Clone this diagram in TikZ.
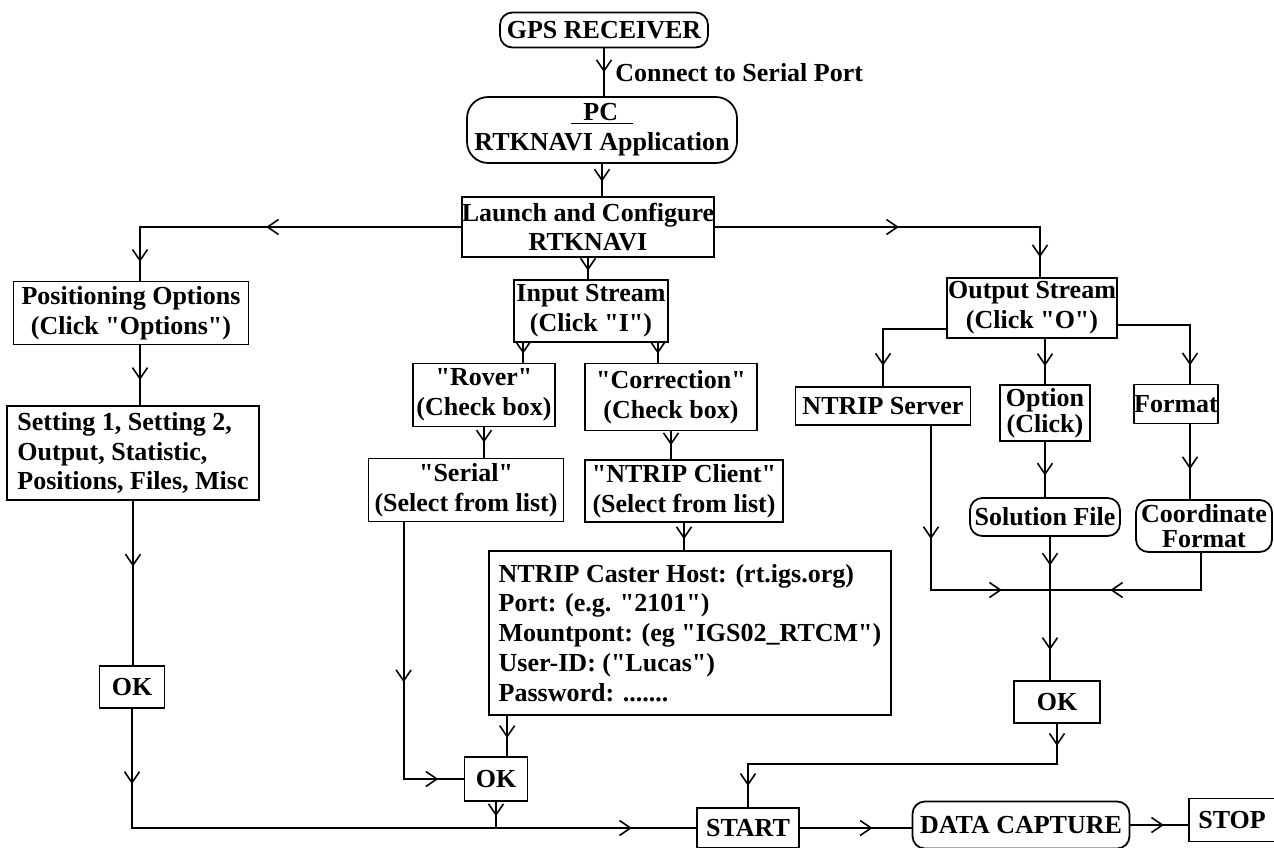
\documentclass[tikz,border=0pt]{standalone}
\usepackage{fontspec}
\setmainfont{Liberation Serif}[Ligatures=TeXOff]
\usetikzlibrary{arrows.meta,decorations.markings}

\tikzset{
  box/.style={draw, line width=1pt, align=center, inner sep=0pt,
    font=\fontsize{14.8}{17}\selectfont\bfseries},
  rbox/.style={box, rounded corners=7pt},
  flow/.style={line width=1pt},
  vmark/.style={postaction={decorate, decoration={markings,
    mark=at position #1 with {\arrow{>}}}}},
  >={Straight Barb[length=2.2mm,width=3mm,line width=0.9pt]}
}

\begin{document}
\begin{tikzpicture}[x=0.02cm, y=-0.02cm]
\useasboundingbox (0,0) rectangle (1274,848);

% top of the chart
\node[rbox, minimum width=4.16cm, minimum height=0.70cm] (gps) at (604,30) {GPS RECEIVER};
\node[rbox, rounded corners=12pt, minimum width=5.40cm, minimum height=1.32cm] (pc) at (602,130)
  {\underline{\hspace{0.25cm}PC\hspace{0.3cm}}\\RTKNAVI Application};
\node[box, minimum width=4.98cm, minimum height=1.20cm] (launch) at (588,227) {Launch and Configure\\RTKNAVI};
\node[anchor=west, font=\fontsize{14.8}{17}\selectfont\bfseries, inner sep=0pt] (conn) at (615,73) {Connect to Serial Port};

% left branch
\node[box, minimum width=4.70cm, minimum height=1.26cm] (pos) at (131,313) {Positioning Options\\ (Click "Options")};
\node[box, align=left, minimum width=5.04cm, minimum height=1.88cm] (set) at (133,453)
  {Setting 1, Setting 2,\\Output, Statistic,\\Positions, Files, Misc};
\node[box, minimum width=1.30cm, minimum height=0.84cm] (okL) at (132,687) {OK};

% input stream
\node[box, minimum width=3.08cm, minimum height=1.24cm] (inp) at (591,311) {Input Stream\\(Click "I")};
\node[box, minimum width=2.84cm, minimum height=1.26cm] (rover) at (484,395) {"Rover"\\(Check box)};
\node[box, minimum width=3.44cm, minimum height=1.34cm] (corr) at (671,397) {"Correction"\\ (Check box)};
\node[box, minimum width=3.90cm, minimum height=1.26cm] (serial) at (466,490) {"Serial"\\(Select from list)};
\node[box, minimum width=3.96cm, minimum height=1.24cm] (client) at (684,491) {"NTRIP Client"\\(Select from list)};
\node[box, align=left, minimum width=8.04cm, minimum height=3.28cm] (caster) at (690,633)
  {NTRIP Caster Host: (rt.igs.org)\\Port: (e.g. "2101")\\Mountpont: (eg "IGS02\_RTCM")\\User-ID: ("Lucas")\\Password: .......};
\node[box, minimum width=1.26cm, minimum height=0.88cm] (okM) at (496,779) {OK};

% output stream
\node[box, minimum width=3.40cm, minimum height=1.20cm] (out) at (1032,308) {Output Stream\\(Click "O")};
\node[box, minimum width=3.50cm, minimum height=0.76cm] (srv) at (883,406) {NTRIP Server};
\node[box, minimum width=1.80cm, minimum height=1.12cm] (opt) at (1045,413) {Option\\[-2pt](Click)};
\node[box, minimum width=1.44cm, minimum height=0.78cm] (fmt) at (1176,404) {Format};
\node[rbox, minimum width=3.00cm, minimum height=0.76cm] (sol) at (1045,517) {Solution File};
\node[rbox, minimum width=2.72cm, minimum height=1.04cm] (coord) at (1204,526) {Coordinate\\[-2.5pt]Format};
\node[box, minimum width=1.72cm, minimum height=0.84cm] (okR) at (1057,702) {OK};
\coordinate (join) at (1050,590);

% bottom row
\node[box, minimum width=2.04cm, minimum height=0.80cm] (start) at (748,828) {START};
\node[rbox, minimum width=4.34cm, minimum height=0.94cm] (data) at (1021,825) {DATA CAPTURE};
\node[box, minimum width=1.72cm, minimum height=0.86cm] (stop) at (1232,820) {STOP};

% connectors
\draw[flow, vmark=0.5] (gps.south) -- (gps.south |- pc.north);
\draw[flow, vmark=0.55] (pc.south) -- (pc.south |- launch.north);
\draw[flow, vmark=0.52, vmark=0.95] (launch.west) -| ([xshift=0.18cm]pos.north);
\draw[flow, vmark=0.58] ([xshift=0.18cm]pos.south) coordinate (ps) -- (ps |- set.north);
\draw[flow, vmark=0.4] (set.south) -- (set.south |- okL.north);
\draw[flow, vmark=0.11, vmark=0.906] (okL.south) |- (start.west);

\draw[flow, vmark=0.6] (launch.south) -- (launch.south |- inp.north);
\draw[flow, vmark=0.55] ([xshift=0.2cm]inp.south west) coordinate (i1) -- (i1 |- rover.north);
\draw[flow, vmark=0.55] ([xshift=-0.22cm]inp.south east) coordinate (i2) -- (i2 |- corr.north);
\draw[flow, vmark=0.5] (rover.south) -- (rover.south |- serial.north);
\draw[flow, vmark=0.5] (corr.south) -- (corr.south |- client.north);
\draw[flow, vmark=0.6] (client.south) -- (client.south |- caster.north);
\draw[flow, vmark=0.505, vmark=0.92] ([xshift=0.72cm]serial.south west) |- (okM.west);
\draw[flow, vmark=0.55] ([xshift=0.38cm]caster.south west) coordinate (cs) -- (cs |- okM.north);
\draw[flow, vmark=0.55] (okM.south) -- (okM.south |- start.west);

\draw[flow, vmark=0.49, vmark=0.947] (launch.east) -| ([xshift=0.16cm]out.north);
\draw[flow, vmark=0.83] ([yshift=-0.42cm]out.west) -| (srv.north);
\draw[flow, vmark=0.6] (opt.north |- out.south) -- (opt.north);
\draw[flow, vmark=0.86] ([yshift=-0.34cm]out.east) -| ([xshift=0.28cm]fmt.north);
\draw[flow, vmark=0.4, vmark=0.83] ([xshift=0.96cm]srv.south) |- (join);
\draw[flow, vmark=0.61] (opt.south) -- (sol.north);
\draw[flow, vmark=0.2, vmark=0.79] (join |- sol.south) -- (join |- okR.north);
\draw[flow, vmark=0.6] ([xshift=0.28cm]fmt.south) coordinate (fs) -- (fs |- coord.north);
\draw[flow, vmark=0.68] ([xshift=-0.06cm]coord.south) |- (join);
\draw[flow, vmark=0.056, vmark=0.946] (okR.south) -- ++(0,40) -| (start.north);

\draw[flow, vmark=0.65] (start.east) -- (start.east -| data.west);
\draw[flow, vmark=0.58] (data.east) -- (data.east -| stop.west);
\end{tikzpicture}
\end{document}
